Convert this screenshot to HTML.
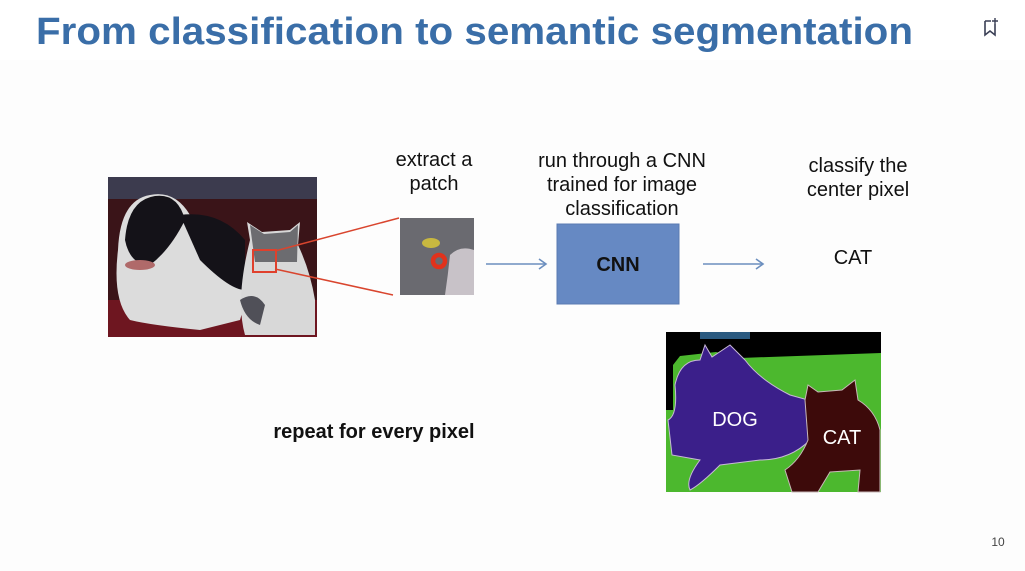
<!DOCTYPE html>
<html><head><meta charset="utf-8"><style>
html,body{margin:0;padding:0;background:#fff;}
svg{display:block;}
text{font-family:"Liberation Sans",sans-serif;}
</style></head><body>
<svg width="1025" height="571" viewBox="0 0 1025 571" xmlns="http://www.w3.org/2000/svg">
<rect x="0" y="0" width="1025" height="571" fill="#fff"/>
<rect x="0" y="60" width="1025" height="511" fill="#fdfdfd"/>
<text x="36" y="44" font-size="38" font-weight="bold" fill="#3a6ea8" textLength="877" lengthAdjust="spacingAndGlyphs">From classification to semantic segmentation</text>
<path d="M985 21 V35 L990 31 L995 35 V24" fill="none" stroke="#3a3f55" stroke-width="1.6"/>
<path d="M985 21 H991 M995 18 V24 M992 21 H998" fill="none" stroke="#3a3f55" stroke-width="1.4"/>

<rect x="108" y="177" width="209" height="160" fill="#3a1418"/>
<rect x="108" y="177" width="209" height="22" fill="#3c3b4e"/>
<rect x="108" y="300" width="209" height="37" fill="#6e1620"/>
<path d="M118 250 Q120 200 150 195 Q175 190 190 215 Q205 250 230 270 Q250 290 240 320 L200 330 Q150 325 130 320 Q112 300 118 250Z" fill="#dcdcdc"/>
<path d="M125 240 Q128 200 155 196 Q178 193 185 220 Q170 250 150 265 Q130 265 125 240Z" fill="#141218"/>
<path d="M180 215 Q220 210 245 240 L245 290 Q230 290 200 260Z" fill="#141218"/>
<ellipse cx="140" cy="265" rx="15" ry="5" fill="#b06a6a"/>
<path d="M250 240 L247 222 L262 232 L290 230 L300 222 L298 245 Q310 270 315 300 L315 335 L245 335 Q235 300 250 240Z" fill="#d8d8d8"/>
<path d="M252 240 L250 225 L264 234 L290 232 L298 225 L297 262 L255 262Z" fill="#6c6c70"/>
<path d="M240 300 Q255 290 265 305 L260 325 Q245 320 240 300Z" fill="#505058"/>
<rect x="253" y="250" width="23" height="22" fill="none" stroke="#e0402c" stroke-width="2"/>
<line x1="275" y1="251" x2="399" y2="218" stroke="#d9452e" stroke-width="1.5"/>
<line x1="275" y1="269" x2="393" y2="295" stroke="#d9452e" stroke-width="1.5"/>

<rect x="400" y="218" width="74" height="77" fill="#6a6a70"/>
<path d="M450 255 Q460 245 474 250 L474 295 L445 295 Q448 275 450 255Z" fill="#c8c2c8"/>
<ellipse cx="431" cy="243" rx="9" ry="5" fill="#c8b840"/>
<circle cx="439" cy="261" r="6" fill="none" stroke="#e0321c" stroke-width="4.5"/>

<text x="434" y="166" font-size="20" text-anchor="middle" fill="#111">extract a</text>
<text x="434" y="190" font-size="20" text-anchor="middle" fill="#111">patch</text>

<g stroke="#6c8fbf" stroke-width="1.6" fill="none">
<line x1="486" y1="264" x2="545" y2="264"/><path d="M539 259 L546 264 L539 269"/>
<line x1="703" y1="264" x2="762" y2="264"/><path d="M756 259 L763 264 L756 269"/>
</g>

<text x="622" y="167" font-size="20" text-anchor="middle" fill="#111">run through a CNN</text>
<text x="622" y="191" font-size="20" text-anchor="middle" fill="#111">trained for image</text>
<text x="622" y="215" font-size="20" text-anchor="middle" fill="#111">classification</text>

<rect x="557" y="224" width="122" height="80" fill="#6689c3" stroke="#5a7ab2" stroke-width="1"/>
<text x="618" y="271" font-size="20" font-weight="bold" text-anchor="middle" fill="#111">CNN</text>

<text x="858" y="172" font-size="20" text-anchor="middle" fill="#111">classify the</text>
<text x="858" y="196" font-size="20" text-anchor="middle" fill="#111">center  pixel</text>
<text x="853" y="264" font-size="20" text-anchor="middle" fill="#111">CAT</text>

<text x="374" y="438" font-size="20" font-weight="bold" text-anchor="middle" fill="#111">repeat for every pixel</text>

<rect x="666" y="332" width="215" height="160" fill="#4cb82e"/>
<path d="M666 332 H881 V353 L740 358 L716 352 L680 356 L673 365 L673 410 L666 410Z" fill="#000"/>
<rect x="700" y="332" width="50" height="7" fill="#2a5a80"/>
<path d="M675 385 Q680 360 700 360 L705 345 L712 357 L730 345 L745 360 Q760 380 790 395 L808 400 L810 440 Q790 460 760 460 L720 465 Q700 485 690 490 Q685 480 700 460 L672 455 L668 420 Q678 415 675 385Z" fill="#3b1f8a" stroke="#c8b8d8" stroke-width="1"/>
<path d="M805 400 L808 385 L818 392 L842 390 L855 380 L858 400 Q875 410 880 430 L880 492 L858 492 L860 470 L830 472 L818 492 L792 492 L785 470 Q800 460 808 440Z" fill="#3d0a0a" stroke="#c8b8b8" stroke-width="1"/>
<text x="735" y="426" font-size="20" text-anchor="middle" fill="#fff">DOG</text>
<text x="842" y="444" font-size="20" text-anchor="middle" fill="#fff">CAT</text>

<text x="998" y="546" font-size="12" text-anchor="middle" fill="#444">10</text>
</svg>
</body></html>
